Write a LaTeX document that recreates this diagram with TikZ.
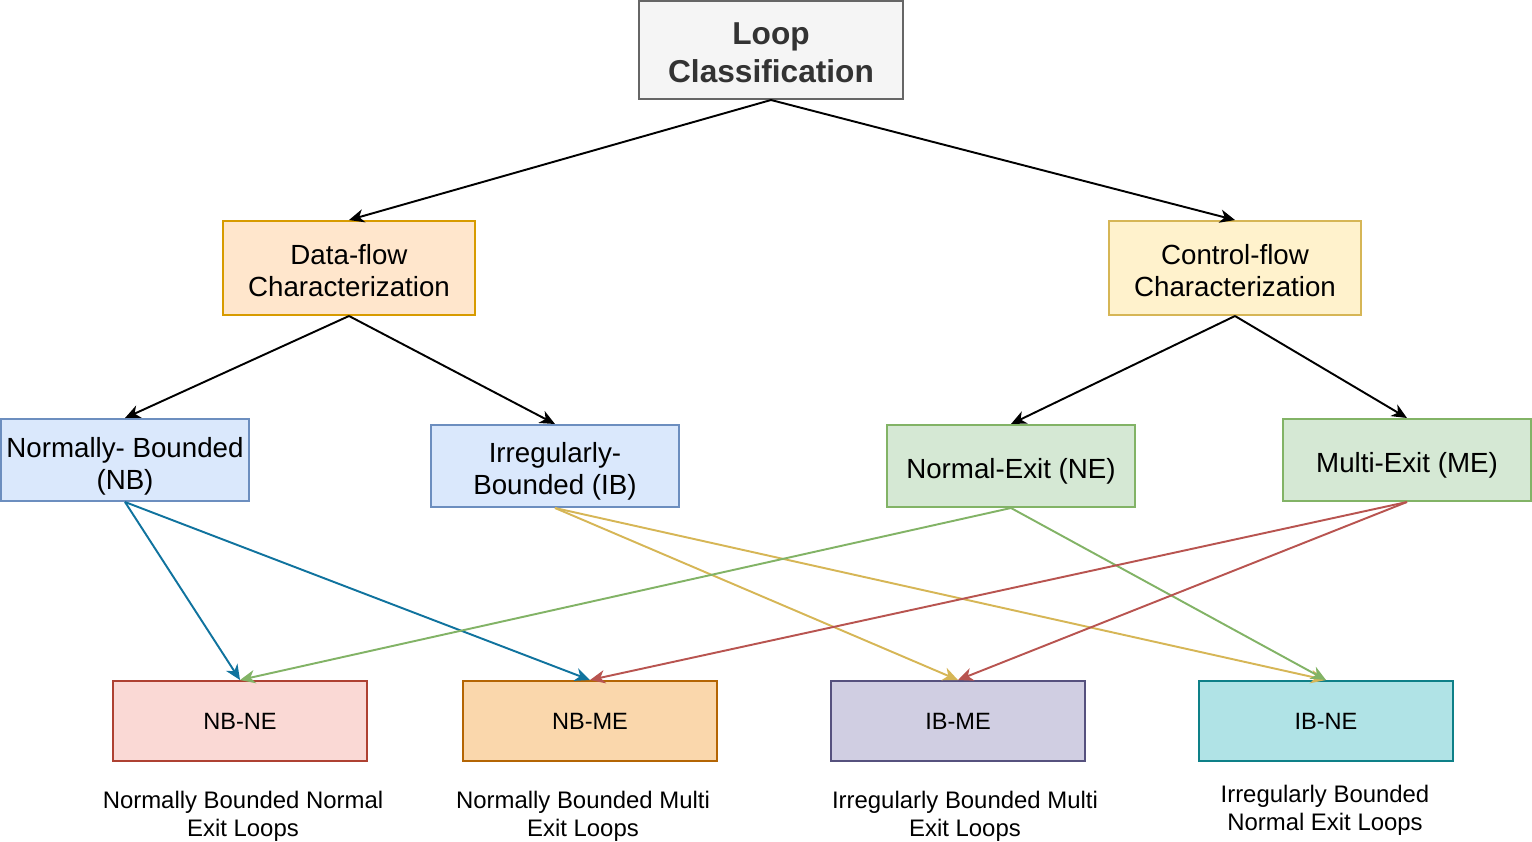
\documentclass[tikz,border=0pt]{standalone}
\usepackage{fontspec}
\setmainfont{Liberation Sans}
\usepackage{tikz}
\usetikzlibrary{arrows.meta}
\definecolor{lctopfill}{HTML}{F5F5F5}
\definecolor{lctopline}{HTML}{666666}
\definecolor{lctoptext}{HTML}{333333}
\definecolor{lcorfill}{HTML}{FFE6CC}
\definecolor{lcorline}{HTML}{D79B00}
\definecolor{lcyefill}{HTML}{FFF2CC}
\definecolor{lcyeline}{HTML}{D6B656}
\definecolor{lcblfill}{HTML}{DAE8FC}
\definecolor{lcblline}{HTML}{6C8EBF}
\definecolor{lcgrfill}{HTML}{D5E8D4}
\definecolor{lcgrline}{HTML}{82B366}
\definecolor{lcredfill}{HTML}{FAD9D5}
\definecolor{lcredline}{HTML}{AE4132}
\definecolor{lcambfill}{HTML}{FAD7AC}
\definecolor{lcambline}{HTML}{B46504}
\definecolor{lcpurfill}{HTML}{D0CEE2}
\definecolor{lcpurline}{HTML}{56517E}
\definecolor{lctealfill}{HTML}{B0E3E6}
\definecolor{lctealline}{HTML}{0E8088}
\definecolor{lcblue}{HTML}{10739E}
\definecolor{lcred}{HTML}{B85450}
\newcommand{\lcup}[1]{\rule{0pt}{#1}}

\begin{document}
\begin{tikzpicture}[
  x=0.01cm, y=-0.01cm,
  boxtop/.style={draw=lctopline, fill=lctopfill, text=lctoptext, line width=0.55pt, inner sep=0pt,
    align=center, minimum width=2.64cm, minimum height=0.98cm, font=\fontsize{9}{10.77}\selectfont\bfseries},
  boxmid/.style={line width=0.55pt, inner sep=0pt, align=center, minimum width=2.48cm,
    minimum height=0.82cm, font=\fontsize{7.88}{9.07}\selectfont},
  boxleaf/.style={line width=0.55pt, inner sep=0pt, minimum width=2.54cm, minimum height=0.8cm,
    font=\fontsize{6.7}{7.7}\selectfont},
  note/.style={align=center, font=\fontsize{6.8}{7.94}\selectfont},
  edge/.style={line width=0.55pt, -{Stealth[length=4.3pt,width=3.8pt,inset=1.3pt]}},
]
\useasboundingbox (0,0) rectangle (1532,842);

% root and the two characterizations
\node[boxtop] (loop) at (771,50) {\lcup{7.9pt}Loop\\Classification};
\node[boxmid, draw=lcorline, fill=lcorfill, minimum width=2.52cm, minimum height=0.94cm] (df) at (349,268) {\lcup{7.2pt}Data-flow\\Characterization};
\node[boxmid, draw=lcyeline, fill=lcyefill, minimum width=2.52cm, minimum height=0.94cm] (cf) at (1235,268) {\lcup{7.2pt}Control-flow\\Characterization};

% second level
\node[boxmid, draw=lcblline, fill=lcblfill] (nb) at (125,460) {\lcup{9.1pt}Normally- Bounded\\(NB)};
\node[boxmid, draw=lcblline, fill=lcblfill] (ib) at (555,466) {\lcup{8.6pt}Irregularly-\\Bounded (IB)};
\node[boxmid, draw=lcgrline, fill=lcgrfill] (ne) at (1011,466) {\lcup{8.6pt}Normal-Exit (NE)};
\node[boxmid, draw=lcgrline, fill=lcgrfill] (me) at (1407,460) {\lcup{8.6pt}Multi-Exit (ME)};

% loop classes
\foreach \n/\x/\t/\f/\d in {
  nbne/240/NB-NE/lcredfill/lcredline,
  nbme/590/NB-ME/lcambfill/lcambline,
  ibme/958/IB-ME/lcpurfill/lcpurline,
  ibne/1326/IB-NE/lctealfill/lctealline%
} {
  \node[boxleaf, fill=\f, draw=\d] (\n) at (\x,721) {\t};
}
\node[note] (nbnetxt) at (243,816) {Normally Bounded Normal\\Exit Loops};
\node[note] (nbmetxt) at (583,816) {Normally Bounded Multi\\Exit Loops};
\node[note] (ibmetxt) at (965,816) {Irregularly Bounded Multi\\Exit Loops};
\node[note] (ibnetxt) at (1325,810) {Irregularly Bounded\\Normal Exit Loops};

% edges
\foreach \a/\b/\c in {
  loop/df/black, loop/cf/black, df/nb/black, df/ib/black, cf/ne/black, cf/me/black,
  nb/nbne/lcblue, nb/nbme/lcblue,
  ib/ibme/lcyeline, ib/ibne/lcyeline,
  ne/nbne/lcgrline, ne/ibne/lcgrline,
  me/nbme/lcred, me/ibme/lcred%
} {
  \draw[edge, draw=\c] (\a.south) -- (\b.north);
}
\end{tikzpicture}
\end{document}
